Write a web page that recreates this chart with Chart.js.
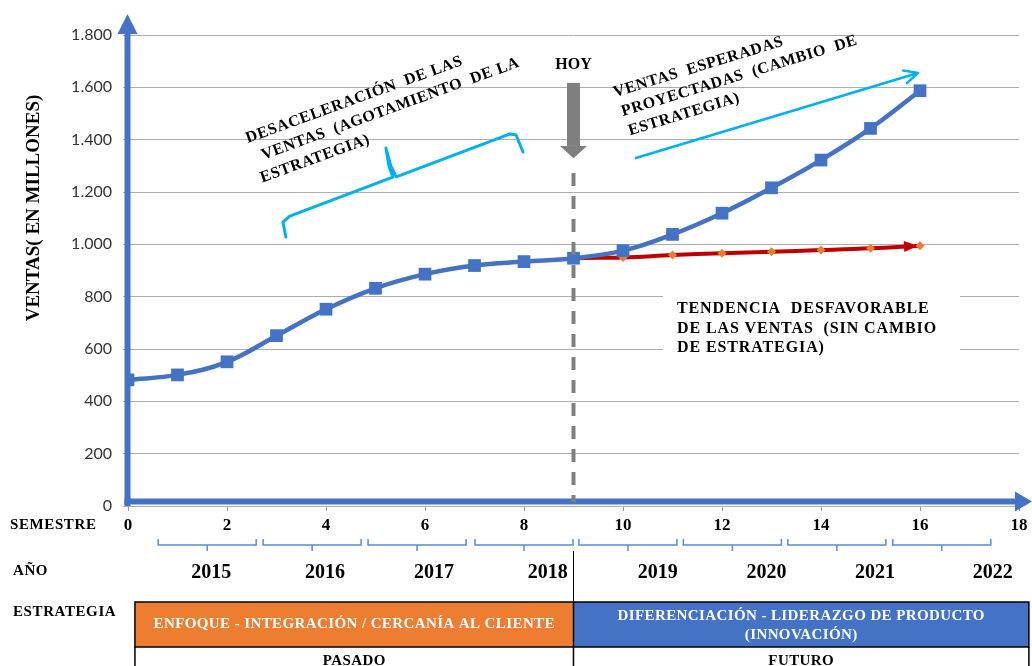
<!DOCTYPE html>
<html>
<head>
<meta charset="utf-8">
<script src="https://cdn.jsdelivr.net/npm/chart.js@4.4.1/dist/chart.umd.min.js"></script>
<style>
  html, body { margin: 0; padding: 0; background: #ffffff; }
  canvas { display: block; }
</style>
</head>
<body>
<canvas id="grafico" width="1032" height="666"></canvas>
<script>
// ---- Datos ----
const semestres = [0, 1, 2, 3, 4, 5, 6, 7, 8, 9, 10, 11, 12, 13, 14, 15, 16];
const ventasConCambio = [482, 501, 551, 651, 752, 832, 886, 919, 934, 947, 976, 1038, 1119, 1216, 1322, 1443, 1587];
const ventasSinCambio = [482, 501, 551, 651, 752, 832, 886, 919, 934, 947, 950, 959, 966, 972, 978, 985, 995];
const semestreHoy = 9;

const anios = ['2015', '2016', '2017', '2018', '2019', '2020', '2021', '2022'];
const posicionAnios = [1.68, 3.98, 6.18, 8.48, 10.7, 12.9, 15.09, 17.47];
const centrosLlaves = [1.6, 3.72, 5.84, 8.0, 10.1, 12.21, 14.32, 16.44];

const estrategiaPasada = ['ENFOQUE - INTEGRACIÓN / CERCANÍA AL CLIENTE'];
const estrategiaFutura = ['DIFERENCIACIÓN - LIDERAZGO DE PRODUCTO', '(INNOVACIÓN)'];
const periodos = ['PASADO', 'FUTURO'];

const textoDesaceleracion = ['DESACELERACIÓN  DE LAS', 'VENTAS  (AGOTAMIENTO  DE LA', 'ESTRATEGIA)'];
const textoEsperadas = ['VENTAS  ESPERADAS', 'PROYECTADAS  (CAMBIO  DE', 'ESTRATEGIA)'];
const textoTendencia = ['TENDENCIA  DESFAVORABLE', 'DE LAS VENTAS  (SIN CAMBIO', 'DE ESTRATEGIA)'];

// ---- Estilos ----
const AZUL = '#4472C4';
const ROJO = '#C00000';
const NARANJA = '#ED7D31';
const CELESTE = '#00B0F0';
const GRIS = '#808080';
const SERIF = '"Liberation Serif", "Times New Roman", serif';
const fuente = (size) => 'bold ' + size + 'px ' + SERIF;

const puntos = (ys) => semestres.map((s, i) => ({ x: s, y: ys[i] }));

function formatoMiles(v) {
  if (v >= 1000) {
    return Math.floor(v / 1000) + '.' + String(v % 1000).padStart(3, '0');
  }
  return String(v);
}

function lineasRotadas(ctx, px, py, grados, lineas, sangrias, alto, font, espaciado) {
  ctx.save();
  ctx.translate(px, py);
  ctx.rotate(grados * Math.PI / 180);
  ctx.font = font;
  ctx.fillStyle = '#000';
  ctx.textAlign = 'left';
  ctx.textBaseline = 'alphabetic';
  ctx.letterSpacing = espaciado;
  lineas.forEach((t, i) => ctx.fillText(t, sangrias[i], i * alto));
  ctx.restore();
}

// Ejes con flecha, flecha roja de tendencia
const fondo = {
  id: 'fondo',
  beforeDatasetsDraw(chart) {
    const { ctx, chartArea: a, scales: { x, y } } = chart;
    ctx.save();
    ctx.fillStyle = AZUL;
    ctx.strokeStyle = AZUL;
    ctx.lineWidth = 6;
    // eje vertical
    const ex = a.left - 0.5;
    ctx.beginPath();
    ctx.moveTo(ex, a.bottom);
    ctx.lineTo(ex, 33);
    ctx.stroke();
    ctx.beginPath();
    ctx.moveTo(ex - 10, 34);
    ctx.lineTo(ex + 10, 34);
    ctx.lineTo(ex, 14);
    ctx.closePath();
    ctx.fill();
    // eje horizontal
    const ey = a.bottom - 4.5;
    ctx.beginPath();
    ctx.moveTo(ex - 3, ey);
    ctx.lineTo(1016, ey);
    ctx.stroke();
    ctx.beginPath();
    ctx.moveTo(1015, ey - 10);
    ctx.lineTo(1015, ey + 10);
    ctx.lineTo(1032, ey);
    ctx.closePath();
    ctx.fill();

    // punta de flecha de la tendencia sin cambio
    const n = semestres.length - 1;
    const p1x = x.getPixelForValue(semestres[n - 1]), p1y = y.getPixelForValue(ventasSinCambio[n - 1]);
    const p2x = x.getPixelForValue(semestres[n]), p2y = y.getPixelForValue(ventasSinCambio[n]);
    const ang = Math.atan2(p2y - p1y, p2x - p1x);
    const tx = p2x - 2 * Math.cos(ang), ty = p2y - 2 * Math.sin(ang);
    const bx = tx - 14 * Math.cos(ang), by = ty - 14 * Math.sin(ang);
    ctx.fillStyle = ROJO;
    ctx.beginPath();
    ctx.moveTo(tx, ty);
    ctx.lineTo(bx + 5.5 * Math.sin(ang), by - 5.5 * Math.cos(ang));
    ctx.lineTo(bx - 5.5 * Math.sin(ang), by + 5.5 * Math.cos(ang));
    ctx.closePath();
    ctx.fill();
    ctx.restore();
  }
};

// Anotaciones sobre el gráfico y panel inferior
const anotaciones = {
  id: 'anotaciones',
  afterDatasetsDraw(chart) {
    const { ctx, chartArea: a, scales: { x, y } } = chart;
    const X = (v) => x.getPixelForValue(v);
    const Y = (v) => y.getPixelForValue(v);
    ctx.save();

    // línea "HOY"
    const hx = X(semestreHoy);
    ctx.strokeStyle = GRIS;
    ctx.lineWidth = 4;
    ctx.setLineDash([13, 10]);
    ctx.beginPath();
    ctx.moveTo(hx, Y(1273));
    ctx.lineTo(hx, a.bottom - 4);
    ctx.stroke();
    ctx.setLineDash([]);

    // flecha gris hacia abajo
    ctx.fillStyle = '#7F7F7F';
    const top = Y(1617), base = Y(1376), punta = Y(1329);
    ctx.fillRect(hx - 6.5, top, 13, base - top);
    ctx.beginPath();
    ctx.moveTo(hx - 13.5, base);
    ctx.lineTo(hx + 13.5, base);
    ctx.lineTo(hx, punta);
    ctx.closePath();
    ctx.fill();

    ctx.fillStyle = '#000';
    ctx.font = fuente(16);
    ctx.textAlign = 'center';
    ctx.textBaseline = 'alphabetic';
    ctx.fillText('HOY', hx, Y(1670));

    // llave celeste (desaceleración)
    const llave = [[3.19, 1028], [3.13, 1085], [3.27, 1108], [5.35, 1257], [5.27, 1300], [5.21, 1368],
                   [5.31, 1300], [5.42, 1258], [7.72, 1422], [7.84, 1418], [7.98, 1353]];
    ctx.strokeStyle = CELESTE;
    ctx.lineWidth = 3;
    ctx.lineJoin = 'round';
    ctx.lineCap = 'round';
    ctx.beginPath();
    llave.forEach((p, i) => {
      if (i === 0) ctx.moveTo(X(p[0]), Y(p[1]));
      else ctx.lineTo(X(p[0]), Y(p[1]));
    });
    ctx.stroke();

    // flecha celeste (ventas esperadas)
    const ax0 = X(10.26), ay0 = Y(1330), ax1 = X(15.96), ay1 = Y(1655);
    const ang = Math.atan2(ay1 - ay0, ax1 - ax0);
    ctx.lineWidth = 2.5;
    ctx.beginPath();
    ctx.moveTo(ax0, ay0);
    ctx.lineTo(ax1, ay1);
    ctx.moveTo(ax1 - 15 * Math.cos(ang - 0.45), ay1 - 15 * Math.sin(ang - 0.45));
    ctx.lineTo(ax1, ay1);
    ctx.lineTo(ax1 - 15 * Math.cos(ang + 0.45), ay1 - 15 * Math.sin(ang + 0.45));
    ctx.stroke();

    // textos inclinados
    lineasRotadas(ctx, X(2.42), Y(1387), -20, textoDesaceleracion, [0, 9, 0], 21, fuente(16), '0.6px');
    lineasRotadas(ctx, X(9.84), Y(1563), -17, textoEsperadas, [0, 2, 3], 20.5, fuente(16), '0.6px');

    // recuadro de tendencia desfavorable
    ctx.fillStyle = '#ffffff';
    ctx.fillRect(X(10.81), Y(833), X(16.81) - X(10.81), Y(566) - Y(833));
    ctx.fillStyle = '#000';
    ctx.font = fuente(16);
    ctx.textAlign = 'left';
    ctx.letterSpacing = '0.9px';
    const tBase = [738, 661, 589];
    textoTendencia.forEach((t, i) => ctx.fillText(t, X(11.09), Y(tBase[i])));
    ctx.letterSpacing = '0px';
    ctx.restore();
  },

  afterDraw(chart) {
    const { ctx, scales: { x } } = chart;
    const X = (v) => x.getPixelForValue(v);
    ctx.save();
    ctx.fillStyle = '#000';
    ctx.textBaseline = 'alphabetic';

    // rótulos de filas
    ctx.font = fuente(15);
    ctx.textAlign = 'left';
    ctx.letterSpacing = '0.6px';
    ctx.fillText('SEMESTRE', 10, 529);
    ctx.fillText('AÑO', 13, 575);
    ctx.fillText('ESTRATEGIA', 13, 616);
    ctx.letterSpacing = '0px';

    // llaves bajo los semestres
    ctx.strokeStyle = '#5B8BD1';
    ctx.lineWidth = 1.5;
    centrosLlaves.forEach((c) => {
      const l = X(c - 0.99), r = X(c + 0.99), m = X(c);
      ctx.beginPath();
      ctx.moveTo(l, 539);
      ctx.lineTo(l, 545);
      ctx.lineTo(r, 545);
      ctx.lineTo(r, 539);
      ctx.moveTo(m, 545);
      ctx.lineTo(m, 551);
      ctx.stroke();
    });

    // años
    ctx.font = fuente(20);
    ctx.textAlign = 'center';
    anios.forEach((t, i) => ctx.fillText(t, X(posicionAnios[i]), 578));

    // cuadros de estrategia
    const xl = X(0.14), xm = X(semestreHoy), xr = X(18.2);
    const yTop = 602, yMid = 647;
    ctx.fillStyle = NARANJA;
    ctx.fillRect(xl, yTop, xm - xl, yMid - yTop);
    ctx.fillStyle = AZUL;
    ctx.fillRect(xm, yTop, xr - xm, yMid - yTop);

    ctx.strokeStyle = '#000';
    ctx.lineWidth = 1.5;
    ctx.strokeRect(xl, yTop, xr - xl, yMid - yTop);
    ctx.beginPath();
    ctx.moveTo(xl, yMid); ctx.lineTo(xl, 668);
    ctx.moveTo(xm, yTop); ctx.lineTo(xm, 668);
    ctx.moveTo(xr, yMid); ctx.lineTo(xr, 668);
    ctx.stroke();
    ctx.lineWidth = 1;
    ctx.beginPath();
    ctx.moveTo(xm, 551);
    ctx.lineTo(xm, yTop);
    ctx.stroke();

    ctx.fillStyle = '#ffffff';
    ctx.font = fuente(15);
    ctx.letterSpacing = '0.4px';
    ctx.fillText(estrategiaPasada[0], (xl + xm) / 2, 628);
    ctx.fillText(estrategiaFutura[0], (xm + xr) / 2, 620);
    ctx.fillText(estrategiaFutura[1], (xm + xr) / 2, 639);

    ctx.fillStyle = '#000';
    ctx.fillText(periodos[0], (xl + xm) / 2, 665);
    ctx.fillText(periodos[1], (xm + xr) / 2, 665);
    ctx.letterSpacing = '0px';

    // título del eje vertical
    ctx.translate(34.5, 208);
    ctx.rotate(-Math.PI / 2);
    ctx.font = fuente(19);
    ctx.textAlign = 'center';
    ctx.textBaseline = 'middle';
    ctx.fillText('VENTAS( EN MILLONES)', 0, 0);
    ctx.restore();
  }
};

new Chart(document.getElementById('grafico'), {
  type: 'line',
  data: {
    datasets: [
      {
        label: 'Con cambio de estrategia',
        data: puntos(ventasConCambio),
        borderColor: AZUL,
        backgroundColor: AZUL,
        borderWidth: 4.5,
        tension: 0.4,
        pointStyle: 'rect',
        pointRadius: 9,
        pointBorderWidth: 0,
        pointBackgroundColor: AZUL
      },
      {
        label: 'Sin cambio de estrategia',
        data: puntos(ventasSinCambio),
        borderColor: ROJO,
        backgroundColor: NARANJA,
        borderWidth: 2,
        tension: 0.4,
        pointStyle: 'rectRot',
        pointRadius: 4.5,
        pointBorderWidth: 0,
        pointBackgroundColor: NARANJA,
        segment: {
          borderWidth: (c) => (c.p0DataIndex >= semestreHoy ? 4 : 2)
        }
      }
    ]
  },
  options: {
    responsive: false,
    animation: false,
    devicePixelRatio: 1,
    layout: { padding: { top: 35, right: 13, bottom: 130, left: 0 } },
    plugins: {
      legend: { display: false },
      tooltip: { enabled: false }
    },
    scales: {
      x: {
        type: 'linear',
        min: 0,
        max: 18,
        afterFit: (s) => { s.height = 30; },
        ticks: {
          stepSize: 2,
          padding: 4,
          color: '#000',
          font: { family: SERIF, size: 17, weight: 'bold' },
          maxRotation: 0
        },
        grid: { drawOnChartArea: false, drawTicks: true, tickLength: 5, color: '#9A9A9A' },
        border: { display: false }
      },
      y: {
        min: 0,
        max: 1800,
        afterFit: (s) => { s.width = 128; },
        ticks: {
          stepSize: 200,
          padding: 11,
          color: '#333333',
          font: { family: 'Lato, "Liberation Sans", sans-serif', size: 16 },
          callback: (v) => formatoMiles(v)
        },
        grid: { color: '#ADADAD', lineWidth: 1, tickLength: 5 },
        border: { display: false }
      }
    }
  },
  plugins: [fondo, anotaciones]
});
</script>
</body>
</html>
